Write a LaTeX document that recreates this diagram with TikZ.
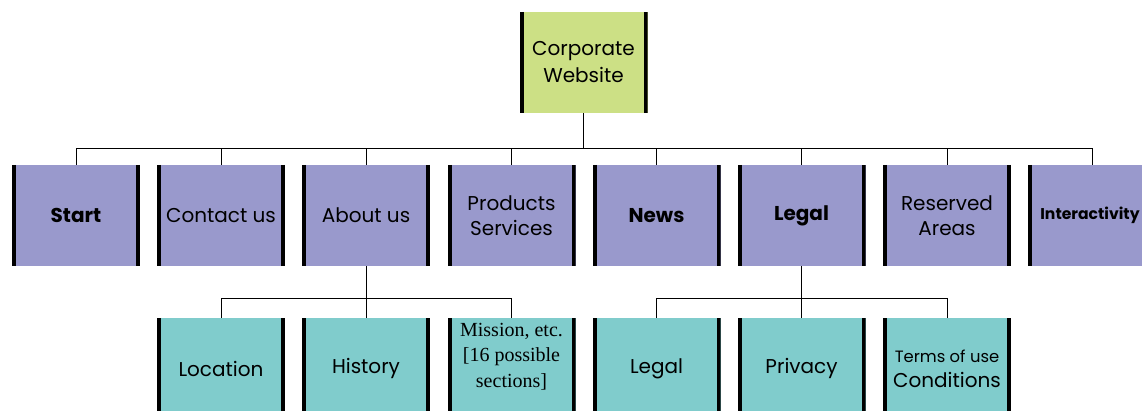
\documentclass[tikz,border=0pt]{standalone}
\usepackage{fontspec}
\setmainfont{Poppins}
\newfontfamily\serifgoudy{Liberation Serif}
\definecolor{topgreen}{RGB}{204,224,133}
\definecolor{midpurple}{RGB}{153,153,204}
\definecolor{lowteal}{RGB}{128,204,204}
\tikzset{
  box/.style={minimum width=128pt, minimum height=101pt, inner sep=1pt, align=center,
    font=\fontsize{20}{25}\selectfont,
    path picture={
      \draw[line width=4pt] ([xshift=2pt]path picture bounding box.north west) -- ([xshift=2pt]path picture bounding box.south west);
      \draw[line width=4pt] ([xshift=-2pt]path picture bounding box.north east) -- ([xshift=-2pt]path picture bounding box.south east);
    }},
  topbox/.style={box, fill=topgreen},
  midbox/.style={box, fill=midpurple},
  lowbox/.style={box, fill=lowteal},
  conn/.style={draw=black, line width=0.9pt},
  serifnote/.style={anchor=north, align=center, inner sep=1pt, yshift=-4pt, font=\serifgoudy\fontsize{20}{25.5}\selectfont},
}
\begin{document}
\begin{tikzpicture}[x=1pt,y=-1pt]
\useasboundingbox (0,0) rectangle (1142,411);
\clip (0,0) rectangle (1142,411);
\fill[white] (0,0) rectangle (1142,411);
\node[topbox] (cw) at (583.5,62.5) {\raisebox{2pt}{Corporate}\\Website};
\node[midbox] (start) at (76,215.5) {\textbf{Start}};
\node[midbox] (contact) at (221,215.5) {Contact us};
\node[midbox] (about) at (366,215.5) {About us};
\node[midbox] (prod) at (511.5,215.5) {Products\\Services};
\node[midbox] (news) at (656.5,215.5) {\textbf{News}};
\node[midbox] (legal) at (801.5,215.5) {\textbf{Legal}};
\node[midbox] (reserved) at (947,215.5) {Reserved\\Areas};
\node[midbox, font=\fontsize{15.6}{19}\selectfont] (inter) at (1092,215.5) {\hspace*{-4pt}\textbf{Interactivity}};
\node[lowbox] (loc) at (221,368.5) {Location};
\node[lowbox] (hist) at (366,368.5) {History};
\node[lowbox] (miss) at (511.5,368.5) {};
\node[serifnote] (misstext) at (miss.north) {Mission, etc.\\{}[16 possible\\sections]};
\node[lowbox] (llegal) at (656.5,368.5) {Legal};
\node[lowbox] (priv) at (801.5,368.5) {Privacy};
\node[lowbox] (terms) at (947,368.5) {{\fontsize{16.4}{24}\selectfont Terms of use}\\Conditions};
\coordinate (b1) at (583.5,148);
\coordinate (b2) at (366,298);
\coordinate (b3) at (801.5,298);
\draw[conn] (cw.south) -- (b1);
\draw[conn] (start.north) -- (start.north |- b1) -- (inter.north |- b1) -- (inter.north);
\foreach \n in {contact,about,prod,news,legal,reserved} \draw[conn] (\n.north) -- (\n.north |- b1);
\draw[conn] (about.south) -- (b2);
\draw[conn] (loc.north) -- (loc.north |- b2) -- (miss.north |- b2) -- (miss.north);
\draw[conn] (hist.north) -- (hist.north |- b2);
\draw[conn] (legal.south) -- (b3);
\draw[conn] (llegal.north) -- (llegal.north |- b3) -- (terms.north |- b3) -- (terms.north);
\draw[conn] (priv.north) -- (priv.north |- b3);
\end{tikzpicture}
\end{document}
